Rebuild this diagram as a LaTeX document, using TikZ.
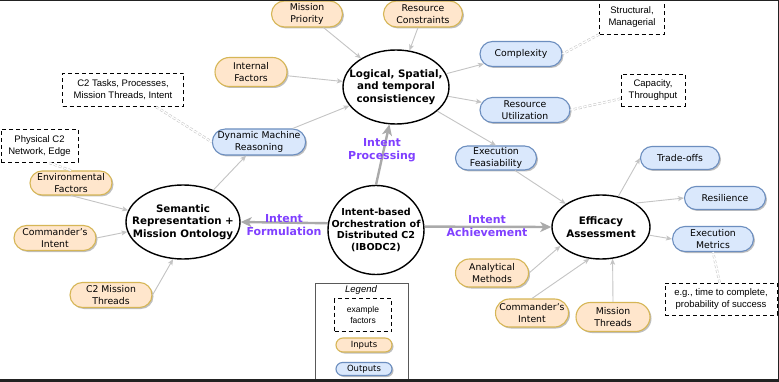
\documentclass[tikz,border=0pt]{standalone}
\usepackage{fontspec}
\setmainfont{DejaVu Sans}
\newfontfamily\arialf{Liberation Sans}
\usetikzlibrary{shapes.geometric,shapes.misc,arrows.meta,shadows}
\definecolor{inFill}{HTML}{FFE6CC}
\definecolor{inDraw}{HTML}{D6B656}
\definecolor{outFill}{HTML}{DAE8FC}
\definecolor{outDraw}{HTML}{6C8EBF}
\definecolor{purp}{HTML}{8040FF}
\definecolor{connc}{HTML}{C4C4C4}
\definecolor{thickc}{HTML}{AAAAAA}
\definecolor{framec}{HTML}{222222}
\begin{document}
\begin{tikzpicture}[x=1pt,y=-1pt,
 pill/.style={rounded rectangle, inner sep=0pt, align=center, line width=1.1pt,
   font=\fontsize{9.3}{11.8}\selectfont,
   drop shadow={shadow xshift=1.5pt, shadow yshift=-1.5pt, opacity=0.25, fill=black}},
 inbox/.style={pill, fill=inFill, draw=inDraw},
 outbox/.style={pill, fill=outFill, draw=outDraw},
 hub/.style={ellipse, draw=black, line width=1.4pt, fill=white, inner sep=0pt},
 hubtext/.style={align=center, inner sep=0pt, font=\bfseries\fontsize{10.3}{12.5}\selectfont},
 notebox/.style={rectangle, draw=black, dash pattern=on 4pt off 3pt, line width=0.8pt, fill=white,
   inner sep=0pt, align=center, font=\arialf\fontsize{9.5}{12}\selectfont},
 feed/.style={draw=connc, line width=0.9pt, -{Stealth[length=6pt,width=5pt,inset=1.5pt]}},
 mainflow/.style={draw=thickc, line width=2.4pt, -{Stealth[length=11pt,width=10pt,inset=3pt]}},
 linkline/.style={draw=gray!45, double=white, double distance=1.3pt, line width=0.55pt, dash pattern=on 3pt off 2pt},
 phase/.style={text=purp, font=\bfseries\fontsize{11}{13}\selectfont, align=center}
]
\useasboundingbox (0,0) rectangle (779,382);
\fill[white] (0,0) rectangle (779,382);

% hubs
\node[hub, minimum width=96pt, minimum height=89pt] (ibo) at (376,230) {};
\node[hubtext, font=\bfseries\fontsize{9.6}{11.7}\selectfont] (ibot) at (ibo.center) {Intent-based\\Orchestration of\\Distributed C2\\(IBODC2)};
\node[hub, minimum width=114pt, minimum height=74pt] (sem) at (183,222) {};
\node[hubtext] (semt) at (sem.center) {Semantic\\Representation +\\Mission Ontology};
\node[hub, minimum width=106pt, minimum height=74pt] (log) at (396,87) {};
\node[hubtext] (logt) at (log.center) {Logical, Spatial,\\and temporal\\consistiencey};
\node[hub, minimum width=98pt, minimum height=64pt] (eff) at (601,227) {};
\node[hubtext] (efft) at (eff.center) {Efficacy\\Assessment};

% inputs
\node[inbox, minimum width=71pt, minimum height=26pt] (mp) at (307,14) {Mission\\Priority};
\node[inbox, minimum width=79pt, minimum height=26pt] (rc) at (423,14) {Resource\\Constraints};
\node[inbox, minimum width=72pt, minimum height=29pt] (intf) at (251,72) {Internal\\Factors};
\node[inbox, minimum width=82pt, minimum height=24pt] (env) at (71,183) {Environmental\\Factors};
\node[inbox, minimum width=82pt, minimum height=25pt] (cil) at (55,238) {Commander's\\Intent};
\node[inbox, minimum width=82pt, minimum height=25pt] (c2mt) at (111,295) {C2 Mission\\Threads};
\node[inbox, minimum width=73pt, minimum height=28pt] (am) at (492,273) {Analytical\\Methods};
\node[inbox, minimum width=73pt, minimum height=28pt] (cir) at (532,313) {Commander's\\Intent};
\node[inbox, minimum width=74pt, minimum height=29pt] (mt) at (613,317) {Mission\\Threads};

% outputs
\node[outbox, minimum width=88pt, minimum height=26pt] (dmr) at (259,142) {Dynamic Machine\\Reasoning};
\node[outbox, minimum width=82pt, minimum height=25pt] (cx) at (521,54) {Complexity};
\node[outbox, minimum width=90pt, minimum height=25pt] (ru) at (525,110) {Resource\\Utilization};
\node[outbox, minimum width=81pt, minimum height=24pt] (ef) at (496,158) {Execution\\Feasiability};
\node[outbox, minimum width=79pt, minimum height=23pt] (to) at (680,158) {Trade-offs};
\node[outbox, minimum width=81pt, minimum height=23pt] (res) at (725,198) {Resilience};
\node[outbox, minimum width=81pt, minimum height=25pt] (em) at (713,239) {Execution\\Metrics};

% example factor notes
\node[notebox, minimum width=121pt, minimum height=33pt] (d1) at (123,90) {C2 Tasks, Processes,\\Mission Threads, Intent};
\node[notebox, minimum width=77pt, minimum height=33pt] (d2) at (39.5,146) {Physical C2\\Network, Edge};
\node[notebox, minimum width=65pt, minimum height=34pt] (d3) at (632,17) {Structural,\\Managerial};
\node[notebox, minimum width=64pt, minimum height=32pt] (d4) at (653,90) {Capacity,\\Throughput};
\node[notebox, minimum width=112pt, minimum height=32pt] (d5) at (721,299) {e.g., time to complete,\\probability of success};

% legend
\node[draw=gray!70!black, line width=0.8pt, minimum width=93pt, minimum height=99pt, inner sep=0pt] (legend) at (361.5,332.5) {};
\node[font=\arialf\itshape\fontsize{9.5}{11}\selectfont] (legtitle) at (361,290.5) {Legend};
\node[notebox, minimum width=57pt, minimum height=33pt, font=\arialf\fontsize{8.5}{11}\selectfont] (d6) at (363,315) {example\\factors};
\node[inbox, minimum width=56pt, minimum height=14pt, font=\fontsize{8.5}{10}\selectfont] (lin) at (364,345) {Inputs};
\node[outbox, minimum width=56pt, minimum height=13pt, font=\fontsize{8.5}{10}\selectfont] (lout) at (364,369) {Outputs};

% thin feeds
\draw[feed] (mp) -- (log);
\draw[feed] (rc) -- (log);
\draw[feed] (intf) -- (log);
\draw[feed] (dmr) -- (log);
\draw[feed] (log) -- (cx);
\draw[feed] (log) -- (ru);
\draw[feed] (log) -- (ef.north);
\draw[feed] (ef) -- (eff);
\draw[feed] (eff) -- (to.west);
\draw[feed] (eff.35) -- (res.west);
\draw[feed] (eff) -- (em.west);
\draw[feed] (am.east) -- (eff.205);
\draw[feed] (cir.north) -- (eff.250);
\draw[feed] (mt.north) -- (eff.290);
\draw[feed] (env.south) -- (sem.168);
\draw[feed] (cil.east) -- (sem.190);
\draw[feed] (c2mt.east) -- (sem.255);
\draw[feed] (sem) -- (dmr);

% link lines to notes
\draw[linkline] (d1.-27) -- (dmr.west);
\draw[linkline] (d2.-60) -- (env.north);
\draw[linkline] (d3.south west) -- (cx.east);
\draw[linkline] (d4.195) -- (ru.east);
\draw[linkline] (d5.95) -- (em.south);

% main flows
\draw[mainflow] (ibo.172) -- (sem.east);
\draw[mainflow] (ibo.north) -- (log.260);
\draw[mainflow] (ibo.4) -- (eff.west);

\node[phase] (pform) at (284,225) {Intent\\Formulation};
\node[phase] (pproc) at (382,150.5) {Intent\\Processing};
\node[phase] (pach) at (487,226.5) {Intent\\Achievement};

% screen frame
\fill[framec] (0,0) rectangle (779,1.2);
\fill[framec] (777.6,0) rectangle (779,382);
\fill[framec] (0,379.3) rectangle (779,382);
\end{tikzpicture}
\end{document}
